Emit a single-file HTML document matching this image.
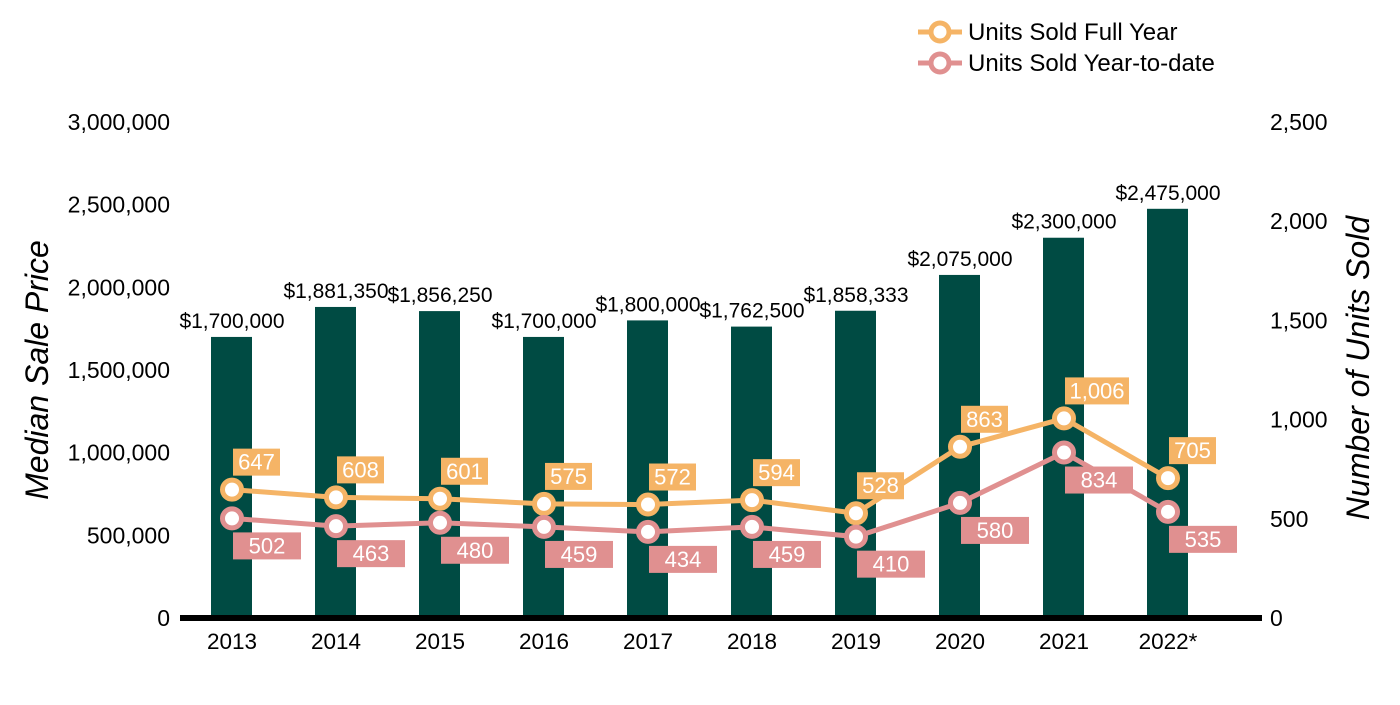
<!DOCTYPE html>
<html><head><meta charset="utf-8"><style>
body{margin:0;background:#fff;font-family:"Liberation Sans",Arial,sans-serif}
svg text{font-family:"Liberation Sans",Arial,sans-serif}
</style></head><body>
<svg id="chart" width="1400" height="700" xmlns="http://www.w3.org/2000/svg">
<g id="g"></g>
</svg>
<script>
const categories=["2013","2014","2015","2016","2017","2018","2019","2020","2021","2022*"];
const medianPrice=[1700000,1881350,1856250,1700000,1800000,1762500,1858333,2075000,2300000,2475000];
const priceLabels=["$1,700,000","$1,881,350","$1,856,250","$1,700,000","$1,800,000","$1,762,500","$1,858,333","$2,075,000","$2,300,000","$2,475,000"];
const unitsFull=[647,608,601,575,572,594,528,863,1006,705];
const unitsYTD=[502,463,480,459,434,459,410,580,834,535];
const leftTicks=[0,500000,1000000,1500000,2000000,2500000,3000000];
const rightTicks=[0,500,1000,1500,2000,2500];

const NS="http://www.w3.org/2000/svg";
const g=document.getElementById('g');
const y0=618,yTop=122;
const yL=v=>y0-(v/3000000)*(y0-yTop);
const yR=v=>y0-(v/2500)*(y0-yTop);
const xC=i=>232+i*104;
const fmt=n=>n.toLocaleString('en-US');
function el(t,a,txt){const e=document.createElementNS(NS,t);for(const k in a)e.setAttribute(k,a[k]);if(txt!==undefined)e.textContent=txt;g.appendChild(e);return e;}

leftTicks.forEach(v=>{const t=el('text',{x:170,y:yL(v)+8,'text-anchor':'end','font-size':23,fill:'#000'},fmt(v));

});
rightTicks.forEach(v=>{const t=el('text',{x:1270,y:yR(v)+8,'font-size':23,fill:'#000'},fmt(v));

});

categories.forEach((c,i)=>{
  const top=yL(medianPrice[i]);
  const b=el('rect',{x:xC(i)-21,y:top,width:41,height:y0-top,fill:'#004b43'});
  
  
  const l=el('text',{x:xC(i),y:top-9,'text-anchor':'middle','font-size':21,fill:'#000'},priceLabels[i]);
  
  
  const xl=el('text',{x:xC(i),y:649,'text-anchor':'middle','font-size':22.5,fill:'#000'},c);
  
  
});
const ax=el('line',{x1:180,x2:1262,y1:y0,y2:y0,stroke:'#000','stroke-width':6});



function series(vals,color,name,above){
  const p=el('polyline',{points:vals.map((v,i)=>xC(i)+','+yR(v)).join(' '),fill:'none',stroke:color,'stroke-width':5});
  
  
  vals.forEach((v,i)=>{
    const c=el('circle',{cx:xC(i),cy:yR(v),r:9.5,fill:'#fff',stroke:color,'stroke-width':5});
    
    
    const txt=fmt(v);
    const w=above?(txt.length>3?64:47):68;
    const bx=xC(i)+1, by=above?yR(v)-41:yR(v)+14;
    const r=el('rect',{x:bx,y:by,width:w,height:27,fill:color});
    
    
    const t=el('text',{x:bx+w/2,y:by+21,'text-anchor':'middle','font-size':22,fill:'#fff'},txt);
    
    
  });
}
series(unitsFull,'#f5b466','units-full-year',true);
series(unitsYTD,'#e09090','units-ytd',false);

[['Units Sold Full Year','#f5b466',32],['Units Sold Year-to-date','#e09090',63]].forEach(([n,c,y])=>{
  const l=el('line',{x1:918,x2:962,y1:y,y2:y,stroke:c,'stroke-width':5});
  
  
  const ci=el('circle',{cx:940,cy:y,r:9,fill:'#fff',stroke:c,'stroke-width':5});
  
  
  const t=el('text',{x:968,y:y+8,'font-size':24,fill:'#000'},n);
  
  
});
const lt=el('text',{transform:'translate(48,370) rotate(-90)','text-anchor':'middle','font-size':32,'font-style':'italic',fill:'#000'},'Median Sale Price');


const rt=el('text',{transform:'translate(1369,368) rotate(-90)','text-anchor':'middle','font-size':32,'font-style':'italic',fill:'#000'},'Number of Units Sold');


</script>
</body></html>
